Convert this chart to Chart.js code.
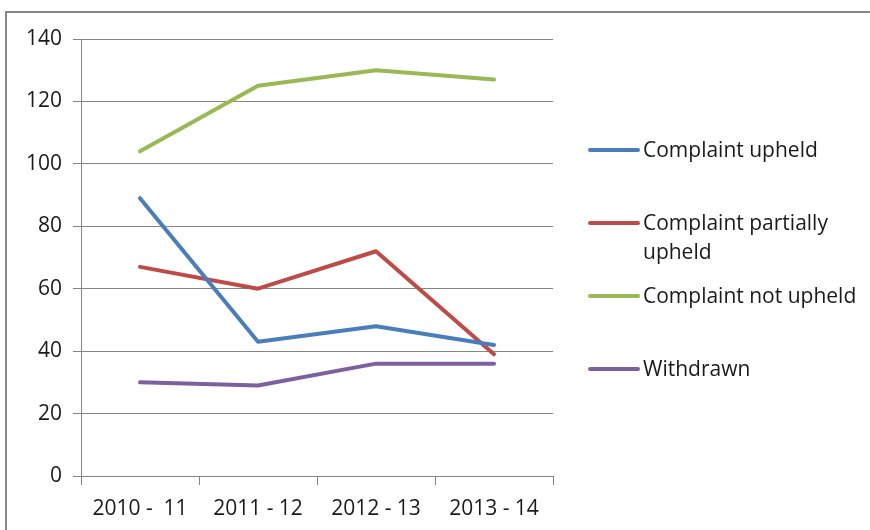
<!DOCTYPE html>
<html>
<head>
<meta charset="utf-8">
<script src="https://cdn.jsdelivr.net/npm/chart.js@4/dist/chart.umd.min.js"></script>
<style>
html,body{margin:0;padding:0;background:#fff;}
#wrap{width:870px;height:530px;position:relative;}
</style>
</head>
<body>
<div id="wrap"><canvas id="c" width="870" height="530"></canvas></div>
<script>
const categories = ["2010 -  11", "2011 - 12", "2012 - 13", "2013 - 14"];
const upheld = [89, 43, 48, 42];
const partiallyUpheld = [67, 60, 72, 39];
const notUpheld = [104, 125, 130, 127];
const withdrawn = [30, 29, 36, 36];
const seriesNames = ["Complaint upheld", "Complaint partially upheld", "Complaint not upheld", "Withdrawn"];
const legendLines = [["Complaint upheld"], ["Complaint partially", "upheld"], ["Complaint not upheld"], ["Withdrawn"]];
const colors = ["#4A7EBB", "#BE4B48", "#98B954", "#7D60A0"];

const FONT = "'Open Sans', Lato, sans-serif";
const GRID = "#868686";

const borderPlugin = {
  id: 'outerBorder',
  beforeDraw(chart) {
    const ctx = chart.ctx;
    ctx.save();
    ctx.fillStyle = '#fff';
    ctx.fillRect(0, 0, chart.width, chart.height);
    ctx.strokeStyle = GRID;
    ctx.lineWidth = 2;
    ctx.beginPath();
    ctx.moveTo(6, 530);
    ctx.lineTo(6, 12);
    ctx.lineTo(870, 12);
    ctx.stroke();
    ctx.restore();
  }
};

const legendPlugin = {
  id: 'customLegend',
  afterDraw(chart) {
    const ctx = chart.ctx;
    const ys = [150, 223, 296, 369];
    ctx.save();
    ctx.font = "21px " + FONT;
    ctx.textBaseline = 'middle';
    ctx.textAlign = 'left';
    chart.data.datasets.forEach((ds, i) => {
      const y = ys[i];
      ctx.strokeStyle = ds.borderColor;
      ctx.lineWidth = 4;
      ctx.lineCap = 'round';
      ctx.beginPath();
      ctx.moveTo(590, y);
      ctx.lineTo(638, y);
      ctx.stroke();
      ctx.fillStyle = '#1a1a1a';
      legendLines[i].forEach((t, k) => {
        ctx.fillText(t, 643, y + 1 + k * 29);
      });
    });
    ctx.restore();
  }
};

const values = [upheld, partiallyUpheld, notUpheld, withdrawn];

new Chart(document.getElementById('c'), {
  type: 'line',
  data: {
    labels: categories,
    datasets: values.map((v, i) => ({
      label: seriesNames[i],
      data: v,
      borderColor: colors[i],
      backgroundColor: colors[i],
      borderWidth: 4,
      pointRadius: 0,
      pointHoverRadius: 0,
      tension: 0,
      borderJoinStyle: 'round',
      borderCapStyle: 'round'
    }))
  },
  options: {
    responsive: false,
    animation: false,
    devicePixelRatio: 1,
    layout: { padding: { left: 0, right: 317, top: 39, bottom: 0 } },
    plugins: {
      legend: { display: false },
      tooltip: { enabled: false },
      title: { display: false }
    },
    scales: {
      x: {
        offset: true,
        grid: {
          display: true,
          drawOnChartArea: false,
          drawTicks: true,
          tickLength: 9,
          color: GRID,
          offset: true
        },
        border: { display: true, color: GRID, width: 1 },
        ticks: {
          color: '#1a1a1a',
          font: { family: FONT, size: 21 },
          padding: 11,
          maxRotation: 0,
          autoSkip: false
        },
        afterFit(scale) { scale.height = 54; }
      },
      y: {
        min: 0,
        max: 140,
        ticks: {
          stepSize: 20,
          color: '#1a1a1a',
          font: { family: FONT, size: 21 },
          padding: 11
        },
        grid: {
          color: GRID,
          tickLength: 8,
          drawTicks: true
        },
        border: { display: true, color: GRID, width: 1 },
        afterFit(scale) { scale.width = 81; }
      }
    }
  },
  plugins: [borderPlugin, legendPlugin]
});
</script>
</body>
</html>
